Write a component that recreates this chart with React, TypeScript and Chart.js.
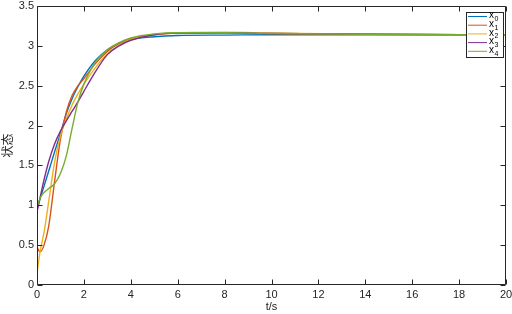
import React, { useEffect, useRef } from "react";
import { Chart, registerables } from "chart.js";

Chart.register(...registerables);

const times = [0, 0.08, 0.15, 0.3, 0.5, 0.75, 1.0, 1.25, 1.5, 1.75, 2.0, 2.5, 3.0, 3.5, 4.0, 5.0, 6.0, 8.0, 10, 14, 20];
const x0 = [0.97, 1.04, 1.1, 1.24, 1.43, 1.67, 1.9, 2.15, 2.34, 2.49, 2.62, 2.82, 2.95, 3.03, 3.08, 3.115, 3.13, 3.135, 3.14, 3.14, 3.14];
const x1 = [0.48, 0.43, 0.42, 0.5, 0.74, 1.3, 1.83, 2.17, 2.38, 2.5, 2.59, 2.78, 2.93, 3.03, 3.09, 3.14, 3.16, 3.165, 3.155, 3.145, 3.14];
const x2 = [0.15, 0.32, 0.45, 0.66, 1.05, 1.54, 1.87, 2.08, 2.26, 2.4, 2.52, 2.73, 2.9, 3.01, 3.08, 3.14, 3.165, 3.17, 3.16, 3.145, 3.14];
const x3 = [0.92, 1.02, 1.12, 1.32, 1.55, 1.77, 1.93, 2.06, 2.18, 2.3, 2.43, 2.68, 2.89, 3.0, 3.07, 3.14, 3.16, 3.165, 3.155, 3.145, 3.14];
const x4 = [0.98, 1.05, 1.1, 1.16, 1.21, 1.27, 1.4, 1.62, 1.97, 2.3, 2.52, 2.8, 2.95, 3.04, 3.1, 3.15, 3.165, 3.165, 3.155, 3.145, 3.14];
const yTicks = [0, 0.5, 1, 1.5, 2, 2.5, 3, 3.5];
const xTicks = [0, 2, 4, 6, 8, 10, 12, 14, 16, 18, 20];
const seriesNames = ["x0", "x1", "x2", "x3", "x4"];
const seriesColors = ["#0072BD", "#D95319", "#EDB120", "#7E2F8E", "#77AC30"];
const seriesValues = [x0, x1, x2, x3, x4];
const xLabel = "t/s";
const yLabel = "状态";

const FONT = "'Liberation Sans', Arial, 'Noto Sans CJK SC', sans-serif";
const AXIS = "#262626";

const frame = {
  id: "frame",
  afterDatasetsDraw(chart: any) {
    const { ctx, chartArea: a, scales } = chart;
    const xs = scales.x;
    const ys = scales.y;
    ctx.save();
    ctx.strokeStyle = AXIS;
    ctx.lineWidth = 1;
    const L = Math.round(a.left) + 0.5;
    const R = Math.round(a.right) - 0.5;
    const T = Math.round(a.top) + 0.5;
    const B = Math.round(a.bottom) - 0.5;
    ctx.beginPath();
    ctx.rect(L, T, R - L, B - T);
    const tl = 5;
    xs.ticks.forEach((t: any) => {
      const px = Math.round(xs.getPixelForValue(t.value)) + 0.5;
      ctx.moveTo(px, B); ctx.lineTo(px, B - tl);
      ctx.moveTo(px, T); ctx.lineTo(px, T + tl);
    });
    ys.ticks.forEach((t: any) => {
      const py = Math.round(ys.getPixelForValue(t.value)) + 0.5;
      ctx.moveTo(L, py); ctx.lineTo(L + tl, py);
      ctx.moveTo(R, py); ctx.lineTo(R - tl, py);
    });
    ctx.stroke();

    // legend
    const bx = 466.5, by = 12.5, bw = 37, bh = 45;
    ctx.fillStyle = "#fff";
    ctx.fillRect(bx, by, bw, bh);
    ctx.strokeStyle = AXIS;
    ctx.strokeRect(bx, by, bw, bh);
    seriesNames.forEach((name, i) => {
      const y = 16.5 + i * 8.7;
      ctx.strokeStyle = seriesColors[i];
      ctx.lineWidth = 1;
      ctx.beginPath();
      ctx.moveTo(468, y);
      ctx.lineTo(487, y);
      ctx.stroke();
      ctx.fillStyle = "#000";
      ctx.textBaseline = "middle";
      ctx.textAlign = "left";
      ctx.font = `10px ${FONT}`;
      ctx.fillText(name[0], 489, y - 1);
      ctx.font = `7px ${FONT}`;
      ctx.fillText(name.slice(1), 494.5, y + 2.5);
    });
    ctx.restore();
  },
};

export default function App() {
  const ref = useRef<HTMLCanvasElement>(null);
  useEffect(() => {
    if (!ref.current) return;
    const chart = new Chart(ref.current, {
      type: "line",
      data: {
        datasets: seriesValues.map((vals, i) => ({
          label: seriesNames[i],
          data: times.map((t, k) => ({ x: t, y: vals[k] })),
          borderColor: seriesColors[i],
          borderWidth: 1.4,
          pointRadius: 0,
          cubicInterpolationMode: "monotone" as const,
          fill: false,
          order: 4 - i,
        })),
      },
      options: {
        animation: false,
        responsive: false,
        maintainAspectRatio: false,
        layout: { padding: { top: 6, right: 6, left: 0, bottom: 0 } },
        plugins: { legend: { display: false }, tooltip: { enabled: false } },
        scales: {
          x: {
            type: "linear",
            min: 0,
            max: 20,
            grid: { display: false, drawTicks: false },
            border: { display: false },
            afterBuildTicks: (s: any) => { s.ticks = xTicks.map((v) => ({ value: v })); },
            ticks: { padding: 3, color: AXIS, font: { family: FONT, size: 11 }, maxRotation: 0, callback: (v: any) => String(v) },
            title: { display: true, text: xLabel, color: AXIS, font: { family: FONT, size: 11 }, padding: 0 },
            afterFit: (s: any) => { s.height = 29; s.paddingLeft = 0; s.paddingRight = 0; },
          },
          y: {
            min: 0,
            max: 3.5,
            grid: { display: false, drawTicks: false },
            border: { display: false },
            afterBuildTicks: (s: any) => { s.ticks = yTicks.map((v) => ({ value: v })); },
            ticks: { padding: 3, color: AXIS, font: { family: FONT, size: 11 }, callback: (v: any) => String(v) },
            title: { display: true, text: yLabel, color: AXIS, font: { family: FONT, size: 12 }, padding: { top: 1, bottom: 0 } },
            afterFit: (s: any) => { s.width = 37; s.paddingTop = 0; s.paddingBottom = 0; },
          },
        },
      },
      plugins: [frame],
    });
    return () => chart.destroy();
  }, []);
  return (
    <div style={{ position: "fixed", left: 0, top: 0, width: 512, height: 314, background: "#fff" }}>
      <canvas ref={ref} width={512} height={314} style={{ width: 512, height: 314 }} />
    </div>
  );
}
